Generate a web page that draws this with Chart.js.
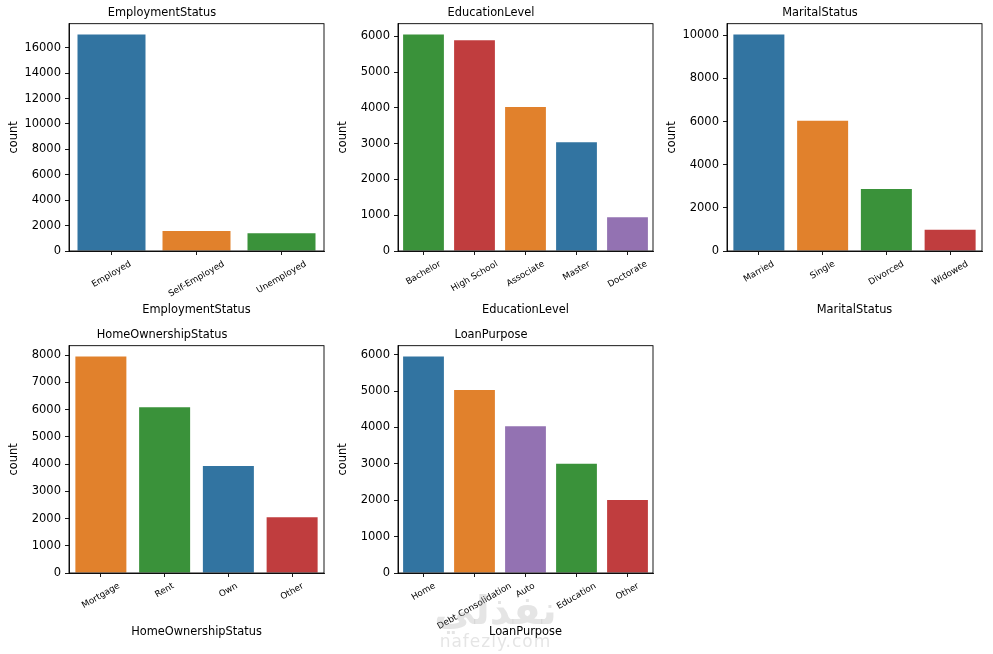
<!DOCTYPE html>
<html>
<head>
<meta charset="utf-8">
<script src="https://cdn.jsdelivr.net/npm/chart.js@4/dist/chart.umd.min.js"></script>
<style>
  html, body { margin: 0; padding: 0; background: #fff; }
  body { width: 993px; height: 654px; position: relative; overflow: hidden; }
  .panel { position: absolute; width: 330px; height: 323px; }
  .mark {
    position: absolute; left: 433px; top: 588px; width: 125px; text-align: center;
    color: rgba(150, 150, 150, 0.25); font-family: "DejaVu Sans", sans-serif; pointer-events: none;
  }
  .mark .ar { font-size: 40px; font-weight: bold; line-height: 44px; }
  .mark .en { font-size: 17px; line-height: 18px; letter-spacing: 1px; }
</style>
</head>
<body>
<div class="panel" style="left:0px;top:0px"><canvas id="employment"></canvas></div>
<div class="panel" style="left:329px;top:0px"><canvas id="education"></canvas></div>
<div class="panel" style="left:658px;top:0px"><canvas id="marital"></canvas></div>
<div class="panel" style="left:0px;top:322px"><canvas id="home"></canvas></div>
<div class="panel" style="left:329px;top:322px"><canvas id="purpose"></canvas></div>
<div class="mark"><div class="ar">نفذلي</div><div class="en">nafezly.com</div></div>

<script>
// categories and counts
const employmentLabels = ['Employed', 'Self-Employed', 'Unemployed'];
const employmentCounts = [17040, 1570, 1390];

const educationLabels = ['Bachelor', 'High School', 'Associate', 'Master', 'Doctorate'];
const educationCounts = [6055, 5895, 4030, 3040, 945];

const maritalLabels = ['Married', 'Single', 'Divorced', 'Widowed'];
const maritalCounts = [10040, 6035, 2875, 980];

const homeLabels = ['Mortgage', 'Rent', 'Own', 'Other'];
const homeCounts = [7950, 6090, 3925, 2050];

const purposeLabels = ['Home', 'Debt Consolidation', 'Auto', 'Education', 'Other'];
const purposeCounts = [5950, 5030, 4030, 3005, 2005];

// y tick spacing for each panel
const employmentStep = 2000;
const educationStep = 1000;
const maritalStep = 2000;
const homeStep = 1000;
const purposeStep = 1000;

// seaborn desaturated tab10
const BLUE = '#3274a1', ORANGE = '#e1812c', GREEN = '#3a923a', RED = '#c03d3e', PURPLE = '#9372b2';

Chart.defaults.font.family = '"DejaVu Sans", sans-serif';
Chart.defaults.color = '#000';
Chart.defaults.animation = false;

// full frame round the plot area
const frame = {
  id: 'frame',
  afterDraw(chart) {
    const a = chart.chartArea;
    const ctx = chart.ctx;
    ctx.save();
    ctx.strokeStyle = '#000';
    ctx.lineWidth = 0.9;
    ctx.strokeRect(a.left, a.top, a.right - a.left, a.bottom - a.top);
    ctx.restore();
  }
};

// matplotlib style rotated labels, centred under each tick
const slantLabels = {
  id: 'slantLabels',
  afterDraw(chart) {
    const sc = chart.scales.x;
    const ctx = chart.ctx;
    const size = 8.8;
    ctx.save();
    ctx.font = size + 'px "DejaVu Sans"';
    ctx.fillStyle = '#000';
    ctx.textAlign = 'center';
    ctx.textBaseline = 'middle';
    chart.data.labels.forEach((label, i) => {
      const w = ctx.measureText(label).width;
      const h = size * 1.15;
      const x = sc.getPixelForTick(i);
      const y = sc.top + 8 + (w * 0.5 + h * 0.866) / 2;
      ctx.save();
      ctx.translate(x, y);
      ctx.rotate(-Math.PI / 6);
      ctx.fillText(label, 0, 0);
      ctx.restore();
    });
    ctx.restore();
  }
};

function countPlot(canvasId, name, labels, counts, colors, step) {
  const ctx = document.getElementById(canvasId).getContext('2d');
  new Chart(ctx, {
    type: 'bar',
    data: {
      labels: labels,
      datasets: [{
        label: 'count',
        data: counts,
        backgroundColor: colors,
        borderWidth: 0,
        categoryPercentage: 0.8,
        barPercentage: 1.0
      }]
    },
    options: {
      responsive: true,
      maintainAspectRatio: false,
      layout: { padding: { right: 6 } },
      plugins: {
        legend: { display: false },
        tooltip: { enabled: false },
        title: {
          display: true,
          text: name,
          font: { size: 11.4, weight: 'normal' },
          padding: { top: 6, bottom: 4 }
        }
      },
      scales: {
        x: {
          offset: true,
          grid: { offset: false, drawOnChartArea: false, drawTicks: true, tickLength: 4, color: '#000', lineWidth: 0.9 },
          border: { display: true, color: '#000', width: 0.9 },
          ticks: { display: false },
          title: { display: true, text: name, font: { size: 11.4 }, padding: { top: 4, bottom: 6 } },
          afterFit(scale) { scale.height = 72; }
        },
        y: {
          min: 0,
          max: Math.max(...counts) * 1.05,
          grid: { drawOnChartArea: false, drawTicks: true, tickLength: 4, color: '#000', lineWidth: 0.9 },
          border: { display: true, color: '#000', width: 0.9 },
          ticks: { padding: 4, font: { size: 11.5 }, callback: v => String(v) },
          title: { display: true, text: 'count', font: { size: 11.4 }, padding: { top: 7, bottom: 4 } },
          afterBuildTicks(scale) {
            const t = [];
            for (let v = 0; v <= scale.max; v += step) t.push({ value: v });
            scale.ticks = t;
          },
          afterFit(scale) { scale.width = 69; }
        }
      }
    },
    plugins: [frame, slantLabels]
  });
}

countPlot('employment', 'EmploymentStatus', employmentLabels, employmentCounts, [BLUE, ORANGE, GREEN], employmentStep);
countPlot('education', 'EducationLevel', educationLabels, educationCounts, [GREEN, RED, ORANGE, BLUE, PURPLE], educationStep);
countPlot('marital', 'MaritalStatus', maritalLabels, maritalCounts, [BLUE, ORANGE, GREEN, RED], maritalStep);
countPlot('home', 'HomeOwnershipStatus', homeLabels, homeCounts, [ORANGE, GREEN, BLUE, RED], homeStep);
countPlot('purpose', 'LoanPurpose', purposeLabels, purposeCounts, [BLUE, ORANGE, PURPLE, GREEN, RED], purposeStep);
</script>
</body>
</html>
